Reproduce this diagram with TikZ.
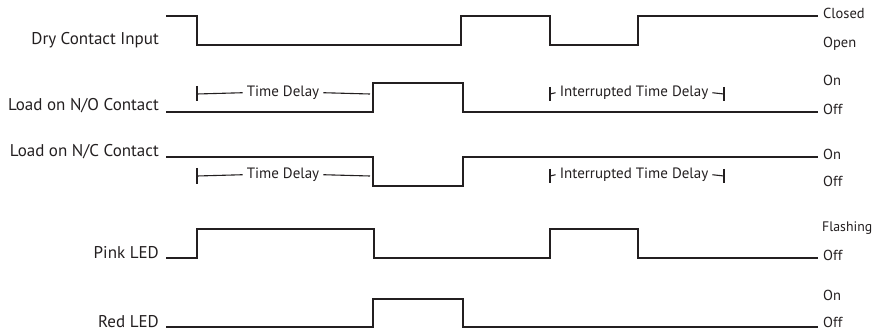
\documentclass[tikz,border=0pt]{standalone}
\usepackage{fontspec}
\setmainfont{PT Sans}
\definecolor{ink}{HTML}{231F20}
\begin{document}
\begin{tikzpicture}[x=1pt,y=-1pt,
  wave/.style={draw=ink,line width=1.5pt,line join=miter},
  brk/.style={draw=ink,line width=1.1pt},
  leftlab/.style={anchor=base east,inner sep=0pt,text=ink,font=\fontsize{17}{19}\selectfont},
  rightlab/.style={anchor=mid west,inner sep=0pt,text=ink,font=\fontsize{14.5}{16}\selectfont},
  dlab/.style={anchor=mid,inner sep=0pt,text=ink,font=\fontsize{15}{17}\selectfont}]
\useasboundingbox (0,0) rectangle (872,331);

% left labels
\node[leftlab] (ldry) at (159,45) {Dry Contact Input};
\node[leftlab] (lno) at (159,111) {Load on N/O Contact};
\node[leftlab] (lnc) at (159,157) {Load on N/C Contact};
\node[leftlab] (lpink) at (159,258) {Pink LED};
\node[leftlab] (lred) at (159,327) {Red LED};

% right labels
\node[rightlab] (rclosed) at (823,16) {Closed};
\node[rightlab] (ropen) at (823,45) {Open};
\node[rightlab] (rnoon) at (823,83) {On};
\node[rightlab] (rnooff) at (823,112) {Off};
\node[rightlab] (rncon) at (823,157) {On};
\node[rightlab] (rncoff) at (823,184) {Off};
\node[rightlab,font=\fontsize{13.8}{16}\selectfont] (rflash) at (822,229) {Flashing};
\node[rightlab] (rpoff) at (823,258) {Off};
\node[rightlab] (rredon) at (823,298) {On};
\node[rightlab] (rredoff) at (823,325) {Off};

% waveforms
\draw[wave] (166,16) -- (197,16) -- (197,45) -- (461,45) -- (461,16) -- (550,16) -- (550,45) -- (638,45) -- (638,16) -- (818,16);
\draw[wave] (166,112) -- (373,112) -- (373,83) -- (463,83) -- (463,112) -- (818,112);
\draw[wave] (166,157) -- (373,157) -- (373,186) -- (463,186) -- (463,157) -- (818,157);
\draw[wave] (166,258) -- (197,258) -- (197,229) -- (374,229) -- (374,258) -- (550,258) -- (550,229) -- (638,229) -- (638,258) -- (818,258);
\draw[wave] (166,327) -- (373,327) -- (373,299) -- (463,299) -- (463,327) -- (818,327);

% N/O delay brackets
\node[dlab] (td1) at (283,94) {Time Delay};
\coordinate (td1a) at (197,94);
\coordinate (td1b) at (370,94);
\draw[brk] (197,86) -- (197,101);
\draw[brk] (td1a) -- ([xshift=-4pt]td1.west);
\draw[brk] ([xshift=4pt]td1.east) -- (td1b);
\node[dlab] (itd1) at (634,94) {Interrupted Time Delay};
\coordinate (itd1a) at (550,94);
\coordinate (itd1b) at (724,94);
\draw[brk] (550,87) -- (550,101);
\draw[brk] (itd1a) -- ([xshift=-4pt]itd1.west);
\draw[brk] ([xshift=4pt]itd1.east) -- (itd1b);
\draw[brk] (724,87) -- (724,101);

% N/C delay brackets
\node[dlab] (td2) at (283,176) {Time Delay};
\coordinate (td2a) at (197,176);
\coordinate (td2b) at (370,176);
\draw[brk] (197,168) -- (197,184);
\draw[brk] (td2a) -- ([xshift=-4pt]td2.west);
\draw[brk] ([xshift=4pt]td2.east) -- (td2b);
\node[dlab] (itd2) at (634,176) {Interrupted Time Delay};
\coordinate (itd2a) at (550,176);
\coordinate (itd2b) at (724,176);
\draw[brk] (550,169) -- (550,183);
\draw[brk] (itd2a) -- ([xshift=-4pt]itd2.west);
\draw[brk] ([xshift=4pt]itd2.east) -- (itd2b);
\draw[brk] (724,169) -- (724,183);
\end{tikzpicture}
\end{document}
